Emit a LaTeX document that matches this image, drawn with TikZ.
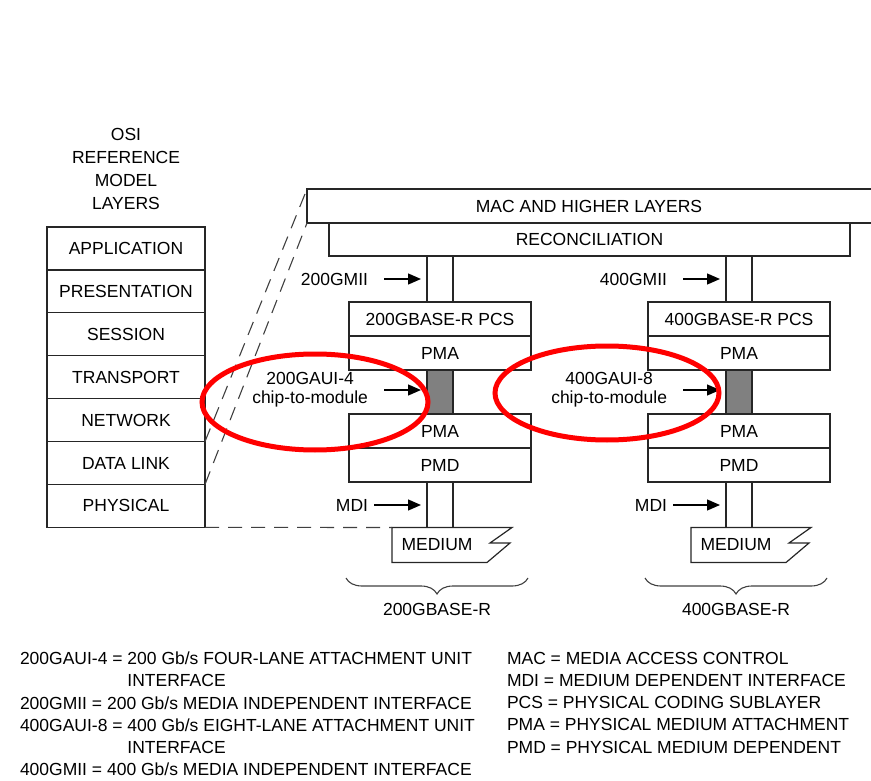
\documentclass[tikz,border=0pt]{standalone}
\usepackage{fontspec}
\setmainfont{Liberation Sans}
\usetikzlibrary{positioning, arrows.meta, decorations.pathreplacing, calc}

\tikzset{
  txt/.style={font=\fontsize{17.5}{21}\selectfont, inner sep=0pt, outer sep=0pt},
  layerbox/.style={txt, draw=black!85, line width=1.2pt, minimum width=158pt, minimum height=42.9pt},
  subbox/.style={txt, draw=black!85, line width=1.2pt, minimum width=182pt, minimum height=34pt},
  lanebox/.style={draw=black!85, line width=1.2pt, fill=black!50, minimum width=26pt, minimum height=44pt, inner sep=0pt, outer sep=0pt},
  lane/.style={draw=black!85, line width=1.2pt},
  dashline/.style={black!75, line width=1.1pt, dash pattern=on 14pt off 9pt},
  arr/.style={line width=1.3pt, -{Triangle[length=13pt, width=11pt]}, shorten >=6pt},
  ring/.style={red, line width=5pt},
  bracket/.style={decorate, decoration={brace, mirror, amplitude=16pt}, line width=1.1pt, black!75}
}

\begin{document}
\begin{tikzpicture}[x=1pt, y=-1pt]
  \useasboundingbox (0,0) rectangle (871,781);
  % OSI reference model stack
  \node[txt, align=center, font=\fontsize{17.5}{22.7}\selectfont] (osititle) at (126,169) {OSI\\REFERENCE\\MODEL\\LAYERS};
  \node[layerbox] (app) at (126,248.5) {APPLICATION};
  \node[layerbox, below=0pt of app] (pres) {PRESENTATION};
  \node[layerbox, below=0pt of pres] (sess) {SESSION};
  \node[layerbox, below=0pt of sess] (trans) {TRANSPORT};
  \node[layerbox, below=0pt of trans] (net) {NETWORK};
  \node[layerbox, below=0pt of net] (dlink) {DATA LINK};
  \node[layerbox, below=0pt of dlink] (phys) {PHYSICAL};
  % MAC and reconciliation
  \node[txt, minimum width=564pt, minimum height=34pt] (mac) at (589,206) {MAC AND HIGHER LAYERS};
  \draw[lane] (mac.north east) -- (mac.north west) -- (mac.south west) -- (mac.south east);
  \node[layerbox, minimum width=521pt, minimum height=33pt] (recon) at (589.5,239.5) {RECONCILIATION};
  % PHY columns
  \foreach \col/\dx/\lanes in {200/0/4, 400/299/8} {
    \node[subbox] (pcs\col) at (440+\dx,319) {\col GBASE-R PCS};
    \node[subbox, below=0pt of pcs\col] (pma\col) {PMA};
    \node[lanebox, below=0pt of pma\col] (gap\col) {};
    \node[subbox, below=0pt of gap\col] (pmal\col) {PMA};
    \node[subbox, below=0pt of pmal\col] (pmd\col) {PMD};
    \node[txt, minimum width=90pt, minimum height=35pt] (med\col) at (437+\dx,545) {MEDIUM};
    \draw[lane, shift={(med\col.center)}] (-45,-17.5) -- (75,-17.5) -- (53,-2) -- (73,-2) -- (50,17.5) -- (-45,17.5) -- cycle;
    % lanes
    \draw[lane] (gap\col.west |- recon.south) -- (gap\col.west |- pcs\col.north);
    \draw[lane] (gap\col.east |- recon.south) -- (gap\col.east |- pcs\col.north);
    \draw[lane] (gap\col.west |- pmd\col.south) -- (gap\col.west |- med\col.north);
    \draw[lane] (gap\col.east |- pmd\col.south) -- (gap\col.east |- med\col.north);
    % interface labels
    \node[txt, anchor=east] (gmii\col) at (368+\dx,279) {\col GMII};
    \node[txt, anchor=east, align=center, font=\fontsize{17.5}{19}\selectfont] (aui\col) at (368+\dx,390) {\col GAUI-\lanes\\chip-to-module};
    \node[txt, anchor=east] (mdi\col) at (368+\dx,505) {MDI};
    \draw[arr] ([xshift=16pt]gmii\col.east) -- (gmii\col.east -| gap\col.west);
    \draw[arr] ([xshift=16pt]aui\col.east) -- (aui\col.east -| gap\col.west);
    \draw[arr] ([xshift=6pt]mdi\col.east) -- (mdi\col.east -| gap\col.west);
    % brace
    \draw[bracket] (346+\dx,578) -- (528+\dx,578);
    \node[txt] (base\col) at (437+\dx,609) {\col GBASE-R};
  }
  % links to OSI
  \draw[dashline] (dlink.north east) -- (mac.north west);
  \draw[dashline] (phys.north east) -- (mac.south west);
  \draw[dashline] (phys.south east) -- (med200.north west);
  % highlight rings
  \draw[ring] (315,402) ellipse [x radius=113, y radius=48];
  \draw[ring] (607,393) ellipse [x radius=112, y radius=47];
  % legend
  \node[txt, align=left, anchor=north west, font=\fontsize{17.5}{22.2}\selectfont] (legl) at (20,652)
    {200GAUI-4 = 200 Gb/s FOUR-LANE ATTACHMENT UNIT\\\hphantom{200GAUI-4 = }INTERFACE\\200GMII = 200 Gb/s MEDIA INDEPENDENT INTERFACE\\400GAUI-8 = 400 Gb/s EIGHT-LANE ATTACHMENT UNIT\\\hphantom{400GAUI-8 = }INTERFACE\\400GMII = 400 Gb/s MEDIA INDEPENDENT INTERFACE};
  \node[txt, align=left, anchor=north west, font=\fontsize{17.5}{22.2}\selectfont] (legr) at (507,652)
    {MAC = MEDIA ACCESS CONTROL\\MDI = MEDIUM DEPENDENT INTERFACE\\PCS = PHYSICAL CODING SUBLAYER\\PMA = PHYSICAL MEDIUM ATTACHMENT\\PMD = PHYSICAL MEDIUM DEPENDENT};
\end{tikzpicture}
\end{document}
